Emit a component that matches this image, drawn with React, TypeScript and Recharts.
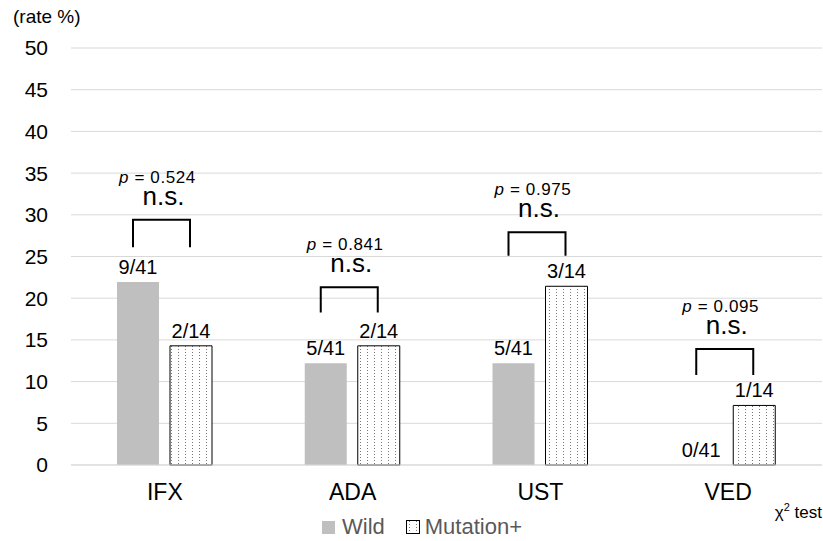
import React from "react";
import { BarChart, Bar, XAxis, YAxis, CartesianGrid, Legend, LabelList } from "recharts";

const categories = ["IFX", "ADA", "UST", "VED"];
const wildRates = [21.95, 12.2, 12.2, 0];
const mutationRates = [14.29, 14.29, 21.43, 7.14];
const wildCounts = ["9/41", "5/41", "5/41", "0/41"];
const mutationCounts = ["2/14", "2/14", "3/14", "1/14"];
const pValues = ["0.524", "0.841", "0.975", "0.095"];
// bracket heights in rate % units
const bracketTop = [29.4, 21.3, 27.9, 13.9];
const bracketBottom = [26.1, 18.3, 25.1, 10.8];
const yTicks = [0, 5, 10, 15, 20, 25, 30, 35, 40, 45, 50];

const FONT = '"Liberation Sans", Arial, sans-serif';
const BAR_SIZE = 42;
const BAR_GAP = 11;
const WILD_COLOR = "#bfbfbf";

const data = categories.map((name, i) => ({
  name,
  wild: wildRates[i],
  mutation: mutationRates[i],
  mutationLabel: mutationCounts[i],
}));

// drawn off the mutation bar: wild count label, bracket, p value and n.s.
function GroupNotes(props: any) {
  const index: number = props.index;
  const vb = props.viewBox ?? props;
  const { x, y, width, height } = vb;
  const value = mutationRates[index];
  if (!value || !height) return null;
  const base = y + height;
  const unit = height / value;
  const toY = (v: number) => base - v * unit;
  const wildCx = x - BAR_GAP - width / 2;
  const right = x + width / 2 - 1;
  const left = wildCx - 5;
  const top = toY(bracketTop[index]);
  const bottom = toY(bracketBottom[index]);
  const cx = (left + right) / 2;
  return (
    <g fontFamily={FONT} fill="#000">
      <text x={wildCx} y={toY(wildRates[index]) - 8} textAnchor="middle" fontSize={20}>
        {wildCounts[index]}
      </text>
      <path d={`M${left},${bottom}V${top}H${right}V${bottom}`} fill="none" stroke="#000" strokeWidth={2} />
      <text x={cx - 4} y={top - 37} textAnchor="middle" fontSize={17} letterSpacing={0.6}>
        <tspan fontStyle="italic">p</tspan> = {pValues[index]}
      </text>
      <text x={cx + 2} y={top - 15} textAnchor="middle" fontSize={26}>
        n.s.
      </text>
    </g>
  );
}

function LegendContent() {
  return (
    <div style={{ height: 36, position: "relative", fontFamily: FONT, fontSize: 22, color: "#595959" }}>
      <div style={{ position: "absolute", left: 322, top: 9, display: "flex", alignItems: "center", whiteSpace: "nowrap" }}>
        <span style={{ width: 13, height: 13, background: WILD_COLOR, display: "inline-block", marginRight: 7 }} />
        <span>Wild</span>
        <svg width={14} height={14} style={{ marginLeft: 21, marginRight: 5 }}>
          <rect x={0.5} y={0.5} width={13} height={13} fill="url(#dots)" stroke="#000" />
        </svg>
        <span>Mutation+</span>
      </div>
    </div>
  );
}

export default function App() {
  return (
    <div style={{ position: "fixed", left: 0, top: 0, width: 823, height: 541, background: "#fff" }}>
      <svg width={0} height={0} style={{ position: "absolute" }}>
        <defs>
          <pattern id="dots" patternUnits="userSpaceOnUse" width={7} height={3}>
            <rect x={0} y={0} width={7} height={3} fill="#fff" />
            <rect x={3} y={1} width={1} height={1} fill="#777" />
          </pattern>
        </defs>
      </svg>
      <BarChart
        width={823}
        height={541}
        data={data}
        margin={{ top: 48, right: 1, left: 0, bottom: 0 }}
        barGap={BAR_GAP}
        barSize={BAR_SIZE}
      >
        <CartesianGrid vertical={false} stroke="#d9d9d9" />
        <XAxis
          dataKey="name"
          height={40}
          tickLine={false}
          axisLine={{ stroke: "#d9d9d9" }}
          tickMargin={13}
          tick={{ fontSize: 23, fill: "#000", fontFamily: FONT }}
          label={{
            content: () => (
              <text x={822} y={518} textAnchor="end" fontSize={17} fontFamily={FONT} fill="#000">
                χ<tspan dy={-7} fontSize={11}>2</tspan>
                <tspan dy={7}> test</tspan>
              </text>
            ),
          }}
        />
        <YAxis
          width={71}
          domain={[0, 50]}
          ticks={yTicks}
          axisLine={false}
          tickLine={false}
          tickMargin={17}
          tick={{ fontSize: 21, fill: "#000", fontFamily: FONT }}
          label={{
            content: () => (
              <text x={13} y={23} fontSize={19} fontFamily={FONT} fill="#000">
                (rate %)
              </text>
            ),
          }}
        />
        <Legend verticalAlign="bottom" content={<LegendContent />} wrapperStyle={{ left: 0, width: 823, bottom: 0 }} />
        <Bar dataKey="wild" name="Wild" fill={WILD_COLOR} isAnimationActive={false} />
        <Bar dataKey="mutation" name="Mutation+" fill="url(#dots)" stroke="#000" strokeWidth={1} isAnimationActive={false}>
          <LabelList dataKey="mutationLabel" position="top" offset={8} fontSize={20} fill="#000" fontFamily={FONT} />
          <LabelList dataKey="mutation" content={<GroupNotes />} />
        </Bar>
      </BarChart>
    </div>
  );
}
